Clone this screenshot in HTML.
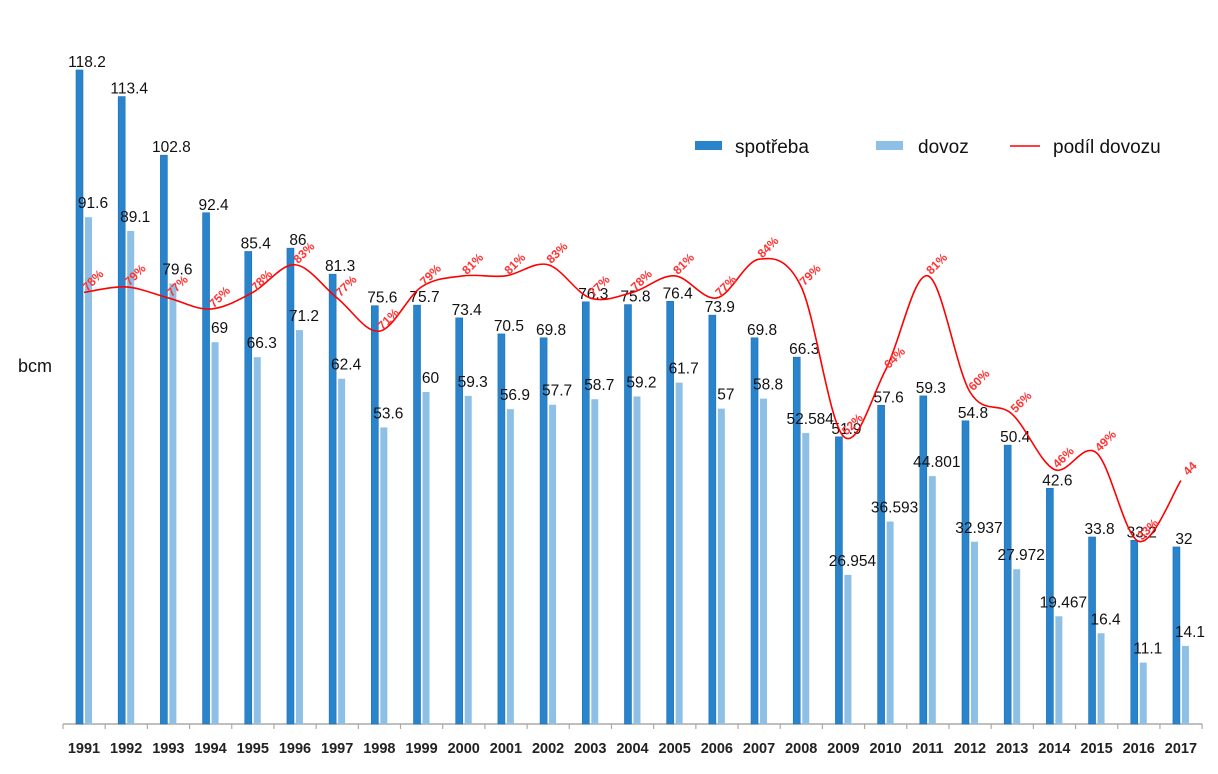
<!DOCTYPE html>
<html><head><meta charset="utf-8"><style>
html,body{margin:0;padding:0;background:#fff;}
svg{display:block;font-family:"Liberation Sans",sans-serif;}
</style></head><body>
<svg id="c" width="1218" height="774" xmlns="http://www.w3.org/2000/svg"></svg>
<script>
const years=[];for(let y=1991;y<=2017;y++)years.push(y);
const sp=[118.2,113.4,102.8,92.4,85.4,86,81.3,75.6,75.7,73.4,70.5,69.8,76.3,75.8,76.4,73.9,69.8,66.3,51.9,57.6,59.3,54.8,50.4,42.6,33.8,33.2,32];
const dv=[91.6,89.1,79.6,69,66.3,71.2,62.4,53.6,60,59.3,56.9,57.7,58.7,59.2,61.7,57,58.8,52.584,26.954,36.593,44.801,32.937,27.972,19.467,16.4,11.1,14.1];
const pc=[78,79,77,75,78,83,77,71,79,81,81,83,77,78,81,77,84,79,52,64,81,60,56,46,49,33,44];
const B=724,K=5.533,S=42.19;
let s='';
s+=`<line x1="63" y1="${B}" x2="1202" y2="${B}" stroke="#aaa" stroke-width="1.5"/>`;
for(let i=0;i<=27;i++){const x=63+S*i;s+=`<line x1="${x}" y1="${B}" x2="${x}" y2="${B+5}" stroke="#aaa" stroke-width="1.2"/>`;}
const pts=[];
years.forEach((y,i)=>{
 const x=76+S*i;
 const h1=sp[i]*K,h2=dv[i]*K;
 s+=`<rect x="${x}" y="${B-h1}" width="7" height="${h1}" fill="#2a84cc" stroke="#1e6fb5" stroke-width="0.6"/>`;
 s+=`<rect x="${x+9}" y="${B-h2}" width="7" height="${h2}" fill="#8ec0e6"/>`;
 s+=`<text x="${x+11}" y="${B-h1-3}" font-size="15.5" text-anchor="middle" fill="#111">${sp[i]}</text>`;
 s+=`<text x="${x+17}" y="${B-h2-9}" font-size="15.5" text-anchor="middle" fill="#111">${dv[i]}</text>`;
 s+=`<text x="${x+8}" y="753" font-size="14.5" font-weight="600" text-anchor="middle" fill="#222">${y}</text>`;
 pts.push([x+8,B-pc[i]*K]);
});
let d=`M${pts[0][0]},${pts[0][1]}`;
for(let i=0;i<pts.length-1;i++){
 const p0=pts[Math.max(0,i-1)],p1=pts[i],p2=pts[i+1],p3=pts[Math.min(pts.length-1,i+2)];
 const c1=[p1[0]+(p2[0]-p0[0])/6,p1[1]+(p2[1]-p0[1])/6];
 const c2=[p2[0]-(p3[0]-p1[0])/6,p2[1]-(p3[1]-p1[1])/6];
 d+=` C${c1[0]},${c1[1]} ${c2[0]},${c2[1]} ${p2[0]},${p2[1]}`;
}
s+=`<path d="${d}" fill="none" stroke="#f00" stroke-width="1.6"/>`;
pts.forEach((p,i)=>{
 const t=i==26?'44':pc[i]+'%';
 s+=`<text x="${p[0]+9}" y="${p[1]-8}" font-size="12" font-weight="bold" fill="#f33" text-anchor="middle" transform="rotate(-45 ${p[0]+9} ${p[1]-12})">${t}</text>`;
});
s+=`<rect x="695" y="141" width="27" height="9" fill="#2a84cc"/><text x="735" y="153" font-size="19" fill="#111">spotřeba</text>`;
s+=`<rect x="876" y="141" width="27" height="9" fill="#8ec0e6"/><text x="918" y="153" font-size="19" fill="#111">dovoz</text>`;
s+=`<line x1="1010" y1="146" x2="1040" y2="146" stroke="#f00" stroke-width="1.6"/><text x="1053" y="153" font-size="19" fill="#111">podíl dovozu</text>`;
s+=`<text x="18" y="372" font-size="18" fill="#111">bcm</text>`;
document.getElementById('c').innerHTML=s;
</script>
</body></html>
